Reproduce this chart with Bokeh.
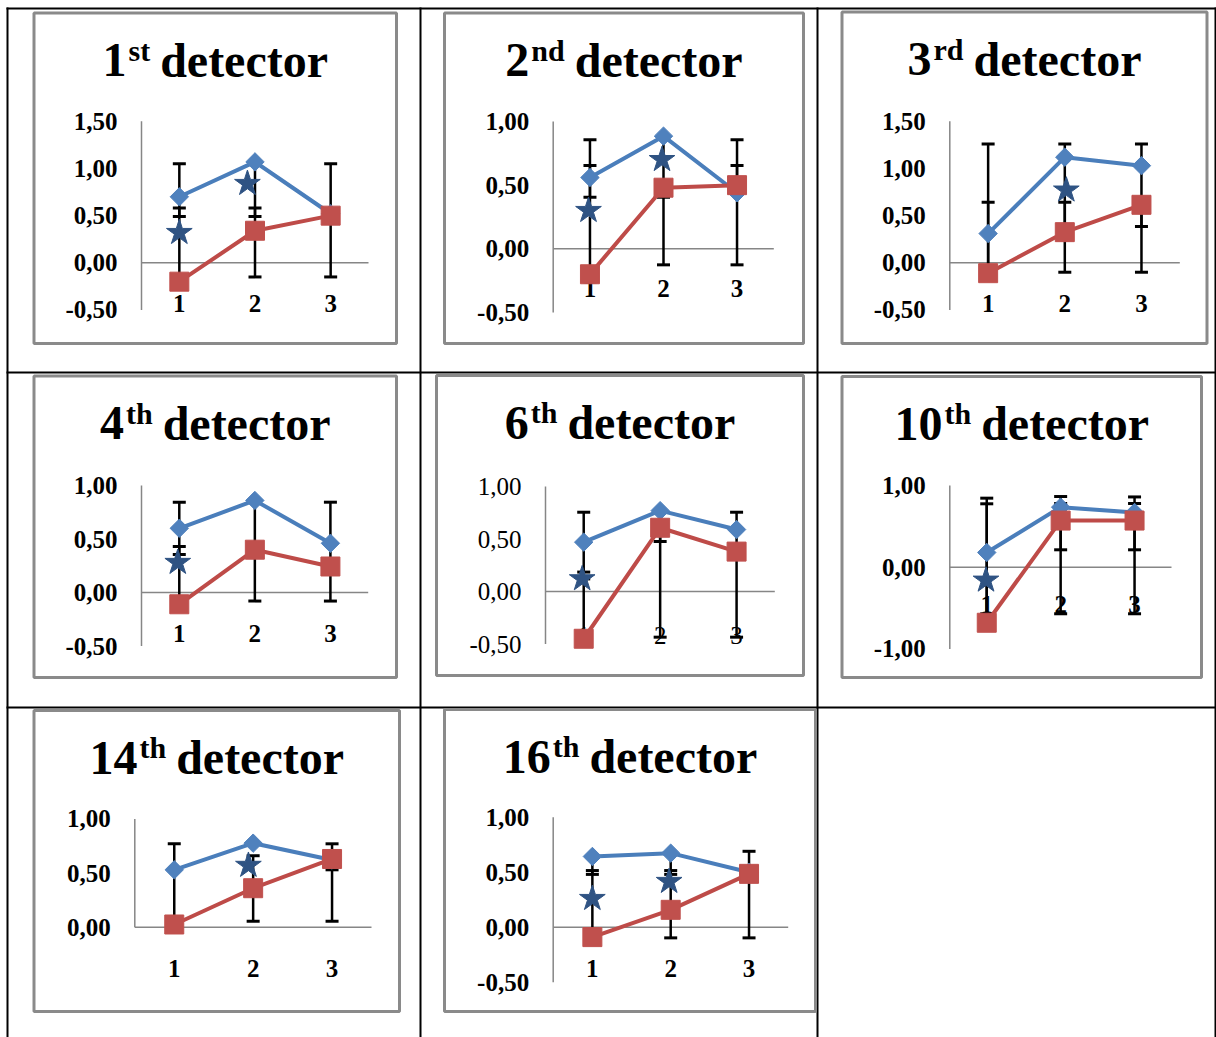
import numpy as np
from bokeh.plotting import figure
from bokeh.models import Range1d
from bokeh.core.properties import value
from bokeh.embed import file_html
from bokeh.resources import INLINE

# ---------------- data ----------------
detector_numbers = ["1", "2", "3", "4", "6", "10", "14", "16"]
detector_suffixes = ["st", "nd", "rd", "th", "th", "th", "th", "th"]
categories = [1, 2, 3]
category_labels = ["1", "2", "3"]

# blue (diamond) series
blue_mean = [
    [0.70, 1.07, 0.52],
    [0.56, 0.885, 0.44],
    [0.31, 1.12, 1.03],
    [0.60, 0.86, 0.46],
    [0.47, 0.77, 0.59],
    [0.18, 0.735, 0.67],
    [0.53, 0.776, 0.62],
    [0.643, 0.673, 0.50],
]
blue_err_low = [
    [0.49, 0.49, 0.52],
    [0.405, 0.405, -0.126],
    [-0.12, -0.10, -0.10],
    [0.356, -0.08, -0.08],
    [0.185, 0.476, 0.42],
    [-0.57, 0.213, 0.213],
    [0.0, 0.776, 0.53],
    [0.48, 0.48, 0.50],
]
blue_err_high = [
    [1.05, 1.07, 1.05],
    [0.856, 0.885, 0.856],
    [1.26, 1.26, 1.26],
    [0.844, 0.86, 0.844],
    [0.755, 0.77, 0.755],
    [0.845, 0.865, 0.86],
    [0.77, 0.776, 0.77],
    [0.643, 0.673, 0.69],
]

# red (square) series
red_mean = [
    [-0.20, 0.34, 0.50],
    [-0.20, 0.48, 0.50],
    [-0.11, 0.325, 0.615],
    [-0.11, 0.40, 0.243],
    [-0.45, 0.607, 0.38],
    [-0.68, 0.571, 0.571],
    [0.025, 0.36, 0.63],
    [-0.09, 0.158, 0.485],
]
red_err_low = [
    [-0.20, -0.15, -0.15],
    [-0.26, -0.126, 0.45],
    [-0.12, 0.325, 0.385],
    [-0.12, 0.40, 0.243],
    [-0.45, -0.435, -0.435],
    [-0.68, -0.57, -0.57],
    [0.025, 0.055, 0.055],
    [-0.09, -0.097, -0.097],
]
red_err_high = [
    [0.58, 0.58, 0.50],
    [0.654, 0.48, 0.654],
    [0.643, 0.643, 0.615],
    [0.43, 0.40, 0.243],
    [0.12, 0.607, 0.38],
    [0.776, 0.78, 0.78],
    [0.025, 0.66, 0.63],
    [0.515, 0.515, 0.485],
]

# star markers
star_x = [[1.0, 1.9], [0.98, 1.98], [2.02], [0.98], [0.98], [0.99], [1.94], [1.0, 1.98]]
star_y = [[0.32, 0.84], [0.30, 0.70], [0.77], [0.28], [0.12], [-0.16], [0.57], [0.26, 0.415]]

# value axes
y_axis_min = [-0.5, -0.5, -0.5, -0.5, -0.5, -1.0, 0.0, -0.5]
y_axis_max = [1.5, 1.0, 1.5, 1.0, 1.0, 1.0, 1.0, 1.0]
y_axis_step = [0.5, 0.5, 0.5, 0.5, 0.5, 1.0, 0.5, 0.5]

# ---------------- layout / style ----------------
W, H = 1216, 1037
FONT = "Liberation Serif"
BLUE_LINE, BLUE_FILL = "#4A7EBB", "#4F81BD"
RED_LINE, RED_FILL = "#BE4B48", "#C0504D"
STAR_COLOR = "#2F5383"
AXIS_GREY = "#868686"
BOX_GREY = "#8A8A8A"

# (left, right, top, bottom) of each chart box, pixels
BOXES = [(33.5, 396, 12.5, 343), (444, 803, 12.5, 343), (841.5, 1206.5, 11.5, 343),
         (33.5, 396, 375.5, 677), (436, 803, 375, 675), (841.5, 1201, 376, 677),
         (33.5, 399, 710, 1011), (444, 815, 709, 1011)]
# plot area: x left, x right, pixel row of value 0, pixels per unit
PLOTS = [(141, 368, 262.3, 94.3), (552.7, 773.3, 248.3, 127.3), (949.3, 1179.3, 262.3, 94.3),
         (141, 367.7, 592, 107), (545, 774.3, 591, 105), (949.3, 1171, 566.7, 81.7),
         (134.3, 371, 926.7, 108.3), (552.7, 787.7, 926.7, 110)]
XLAB_OFF = [41, 40, 41, 41, 44, 37, 41, 41]
TICK_STYLE = ["bold", "bold", "bold", "bold", "normal", "bold", "bold", "bold"]
SUP_W = {"s": 389, "t": 333, "n": 556, "d": 556, "r": 444, "h": 556}

p = figure(width=W, height=H, x_range=Range1d(0, W), y_range=Range1d(H, 0),
           output_backend="svg", toolbar_location=None,
           x_axis_location=None, y_axis_location=None, min_border=0)
p.title.visible = False
p.outline_line_color = None
p.xgrid.visible = False
p.ygrid.visible = False
p.background_fill_color = "white"
p.border_fill_color = "white"

# table rules
TX = [7, 420, 817, 1215]
TY = [8, 372, 707]
p.segment(x0=TX, y0=[7] * 4, x1=TX, y1=[H] * 4, line_color="black", line_width=2)
p.segment(x0=[6] * 3, y0=TY, x1=[W] * 3, y1=TY, line_color="black", line_width=2)

xr, yr = {}, {}
for i in range(8):
    x0, x1, yz, k = PLOTS[i]
    s = (x1 - x0) / 3.0
    xs = 0.5 - x0 / s
    xr[f"x{i}"] = Range1d(xs, xs + W / s)
    yr[f"y{i}"] = Range1d((yz - H) / k, yz / k)
p.extra_x_ranges = xr
p.extra_y_ranges = yr

for i in range(8):
    left, right, top, bottom = BOXES[i]
    p.quad(left=[left], right=[right], top=[top], bottom=[bottom],
           fill_color=None, line_color=BOX_GREY, line_width=3)

    # title with superscript
    num, sup = detector_numbers[i], detector_suffixes[i]
    wN = 24 * len(num)
    wS = 30 * sum(SUP_W[c] for c in sup) / 1000.0
    total = wN + 2 + wS + 10 + 167.9
    sx = (left + right) / 2 - total / 2
    base = top + 66 - 18.7
    sup_base = top + 66 - 17 - 11.7
    tkw = dict(text_font=value(FONT), text_font_style="bold", text_color="black",
               text_baseline="alphabetic", text_align="left")
    p.text(x=[sx], y=[base], text=[num], text_font_size="48px", **tkw)
    p.text(x=[sx + wN + 2], y=[sup_base], text=[sup], text_font_size="30px", **tkw)
    p.text(x=[sx + wN + 2 + wS + 10], y=[base], text=["detector"], text_font_size="48px", **tkw)

    rk = dict(x_range_name=f"x{i}", y_range_name=f"y{i}")
    ymin, ymax, step = y_axis_min[i], y_axis_max[i], y_axis_step[i]

    # axes
    p.segment(x0=[0.5, 0.5], y0=[ymin, 0], x1=[0.5, 3.5], y1=[ymax, 0],
              line_color=AXIS_GREY, line_width=1.5, **rk)
    ticks = np.arange(ymin, ymax + step / 2, step)
    labels = [f"{t:.2f}".replace(".", ",").replace("-0,00", "0,00") for t in ticks]
    p.text(x=[0.5] * len(ticks), y=list(ticks), text=labels, x_offset=-24,
           text_align="right", text_baseline="middle", text_font=value(FONT),
           text_font_size="25px", text_font_style=TICK_STYLE[i], text_color="black", **rk)
    p.text(x=categories, y=[0] * 3, text=category_labels, y_offset=XLAB_OFF[i],
           text_align="center", text_baseline="middle", text_font=value(FONT),
           text_font_size="25px", text_font_style=TICK_STYLE[i], text_color="black", **rk)

    # error bars
    for lo_l, hi_l in ((blue_err_low[i], blue_err_high[i]), (red_err_low[i], red_err_high[i])):
        lo = np.clip(lo_l, ymin, ymax)
        hi = np.clip(hi_l, ymin, ymax)
        p.segment(x0=categories, y0=lo, x1=categories, y1=hi,
                  line_color="black", line_width=2.5, **rk)
        cx, cy = [], []
        for c, a, b in zip(categories, lo_l, hi_l):
            for e in (a, b):
                if ymin <= e <= ymax:
                    cx.append(c)
                    cy.append(e)
        p.scatter(x=cx, y=cy, marker="dash", size=13, line_color="black",
                  line_width=3, **rk)

    # series
    p.line(x=categories, y=blue_mean[i], line_color=BLUE_LINE, line_width=4, **rk)
    p.scatter(x=categories, y=blue_mean[i], marker="square", angle=np.pi / 4, size=13,
              fill_color=BLUE_FILL, line_color=BLUE_FILL, **rk)
    p.line(x=categories, y=red_mean[i], line_color=RED_LINE, line_width=4, **rk)
    p.scatter(x=categories, y=red_mean[i], marker="square", size=19,
              fill_color=RED_FILL, line_color=RED_FILL, **rk)
    p.scatter(x=star_x[i], y=star_y[i], marker="star", size=27,
              fill_color=STAR_COLOR, line_color=STAR_COLOR, **rk)

open("out.html", "w").write(file_html(p, INLINE))
